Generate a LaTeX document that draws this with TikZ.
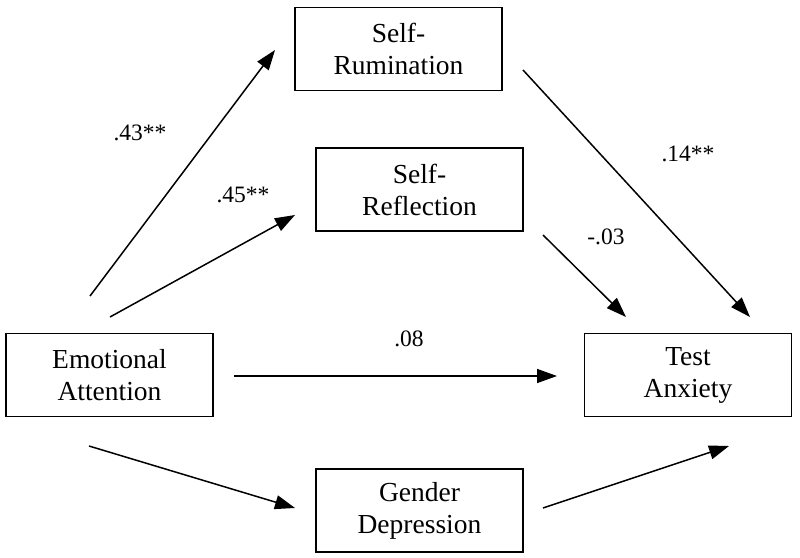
\documentclass[tikz,border=0pt]{standalone}
\usepackage{fontspec}
\setmainfont{Liberation Serif}
\usetikzlibrary{arrows.meta}

\begin{document}
\begin{tikzpicture}[x=1pt,y=-1pt,
  box/.style={draw, line width=1.5pt, align=center, inner sep=0pt,
    minimum width=207pt, minimum height=83pt, font=\fontsize{27.5}{32}\selectfont},
  lbl/.style={font=\fontsize{23.5}{27}\selectfont},
  arr/.style={line width=1.5pt, -{Triangle[length=20pt,width=14pt]}}]
\useasboundingbox (0,0) rectangle (800,557);

\node[box] (rum) at (398.5,49) {Self-\\Rumination};
\node[box] (refl) at (419.5,189.5) {Self-\\Reflection};
\node[box] (emo) at (109.5,375) {Emotional\\Attention};
\node[box] (anx) at (688,375) {Test\\Anxiety};
\node[box] (dep) at (419.5,510.5) {Gender\\Depression};

% free ends of the paths
\coordinate (emo-a) at (90,296);   \coordinate (rum-in) at (275,50);
\coordinate (emo-b) at (110,317);  \coordinate (refl-in) at (295,215);
\coordinate (rum-out) at (523,70); \coordinate (anx-a) at (750,317);
\coordinate (refl-out) at (543,235); \coordinate (anx-b) at (626,317);
\coordinate (emo-c) at (234,376);  \coordinate (anx-c) at (557,376);
\coordinate (emo-d) at (89,446);   \coordinate (dep-in) at (295,508);
\coordinate (dep-out) at (543,508); \coordinate (anx-d) at (729,446);

\draw[arr] (emo-a) -- (rum-in);
\draw[arr] (emo-b) -- (refl-in);
\draw[arr] (rum-out) -- (anx-a);
\draw[arr] (refl-out) -- (anx-b);
\draw[arr] (emo-c) -- (anx-c);
\draw[arr] (emo-d) -- (dep-in);
\draw[arr] (dep-out) -- (anx-d);

\node[lbl] (l43) at (140,133) {.43**};
\node[lbl] (l45) at (243,195) {.45**};
\node[lbl] (l14) at (688,154) {.14**};
\node[lbl] (l03) at (606,237) {-.03};
\node[lbl] (l08) at (409,339) {.08};

\end{tikzpicture}
\end{document}
